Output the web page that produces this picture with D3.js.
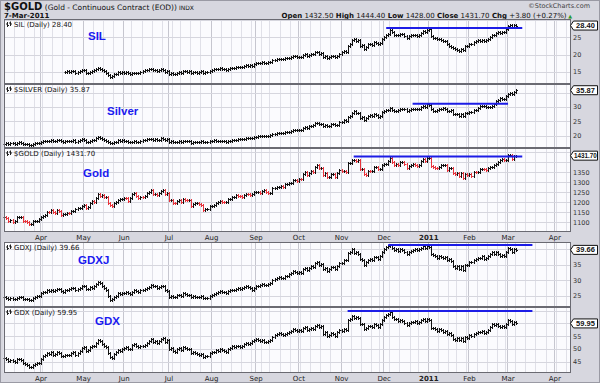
<!DOCTYPE html>
<html>
<head>
<meta charset="utf-8">
<script src="https://cdn.jsdelivr.net/npm/d3@7"></script>
<style>
  body { margin: 0; background: #d7d7df; }
  svg { display: block; }
</style>
</head>
<body>
<div id="chart"></div>
<script>
// trading calendar
const firstDay = "2010-03-08";
const lastAxisDay = "2011-04-15";
const holidays = ["2010-04-02", "2010-05-31", "2010-07-05", "2010-09-06", "2010-11-25", "2010-12-24", "2011-01-17", "2011-02-21"];
const silStart = "2010-04-20";

// daily closes, Mar 8 2010 .. Mar 7 2011
const goldClose = [
  1124,1122,1107,1108,1102,1104,1123,1124,1125,1106,1104,1099,1088,1089,1104,1106,1106,1113,
  1125,1132,1135,1152,1150,1161,1152,1145,1158,1157,1136,1139,1142,1145,1143,1154,1155,1163,1168,1172,1180,
  1183,1168,1176,1197,1207,1200,1221,1240,1232,1233,1223,1225,1193,1186,1178,1193,1200,1211,1213,1213,
  1222,1220,1206,1219,1240,1245,1230,1222,1226,1223,1230,1245,1250,1260,1240,1240,1236,1245,1256,1260,1240,1244,
  1208,1211,1195,1194,1207,1210,1198,1214,1209,1208,1211,1181,1191,1193,1194,1189,1184,1159,1163,1167,1182,
  1182,1186,1197,1198,1205,1201,1198,1198,1214,1216,1225,1226,1233,1231,1229,1227,1235,1240,1238,1237,1238,1248,
  1250,1250,1247,1256,1258,1249,1246,1246,1268,1269,1274,1277,1279,1275,1292,1292,1296,1297,1309,1309,1307,
  1317,1315,1340,1349,1334,1346,1354,1349,1373,1383,1369,1371,1334,1345,1325,1325,1339,1340,1325,1344,1359,
  1354,1357,1349,1393,1394,1410,1412,1403,1408,1367,1367,1338,1336,1355,1353,1356,1375,1377,1364,1366,1386,
  1388,1390,1406,1422,1401,1384,1391,1384,1399,1399,1392,1371,1379,1387,1388,1386,1382,1383,1406,1413,1405,1421,
  1422,1378,1373,1372,1369,1376,1384,1386,1387,1361,1368,1370,1345,1342,1344,1332,1343,1318,1341,1333,
  1339,1332,1352,1349,1349,1364,1364,1363,1360,1368,1374,1374,1385,1388,1401,1409,1415,1410,1411,
  1434,1437,1416,1428,1431.7
];
const silverClose = [
  17.20,17.25,17.10,17.25,17.30,17.15,17.50,17.60,17.50,17.05,17.15,17.10,16.80,16.75,17.10,17.30,17.45,17.50,
  17.75,18.05,18.10,18.20,18.20,18.30,18.00,18.15,18.50,18.60,17.95,17.85,18.05,18.10,18.05,18.25,18.30,17.90,18.10,18.40,18.65,
  18.55,17.60,17.80,18.20,18.40,18.60,19.20,19.60,19.20,18.90,18.45,18.20,17.80,17.35,17.40,17.80,17.90,18.30,18.25,18.45,
  18.10,18.00,17.80,17.60,17.80,17.95,17.75,17.80,18.15,18.30,18.55,18.75,18.95,18.80,18.50,18.65,18.45,18.50,19.00,18.80,18.40,18.70,
  17.90,17.95,17.70,17.60,17.85,18.00,17.80,18.25,18.20,18.05,18.10,17.50,17.75,17.85,17.80,17.90,18.00,17.60,17.80,17.60,17.95,
  18.10,18.30,18.20,18.15,18.20,18.10,18.10,17.90,18.05,18.25,18.30,18.40,18.60,18.80,18.70,18.75,18.90,19.10,19.10,19.25,19.20,19.40,
  19.60,19.80,19.80,19.95,19.85,19.80,19.95,20.10,20.60,20.70,20.75,20.85,20.80,20.90,21.25,21.10,21.35,21.60,22.05,21.95,21.80,
  22.10,22.05,22.70,23.10,22.70,23.30,23.50,23.55,24.25,24.50,24.00,24.10,23.20,23.60,23.25,23.45,23.95,23.95,23.60,23.80,24.70,
  24.90,25.50,25.00,26.40,26.70,27.80,28.60,27.80,27.90,26.30,26.40,25.50,26.20,27.00,27.05,26.95,27.40,27.25,26.65,26.95,28.30,
  28.55,28.80,29.10,29.80,29.00,28.50,28.70,28.80,29.40,29.45,29.20,28.50,29.00,29.30,29.45,29.35,29.15,29.25,29.90,30.40,30.15,30.90,
  30.60,29.40,28.75,28.75,28.80,29.20,29.20,29.60,29.40,28.45,28.60,28.95,27.50,27.50,27.70,27.00,27.60,26.70,27.95,27.90,
  28.40,28.30,28.80,29.10,29.60,30.20,30.40,30.30,30.10,30.15,29.95,30.40,31.10,32.10,32.60,33.00,32.90,32.70,33.90,
  34.60,34.80,34.60,35.20,35.87
];
// SIL starts trading Apr 20 2010
const silClose = [
  15.0,15.1,14.9,15.2,15.3,14.8,15.0,15.3,15.5,
  15.4,14.6,14.7,15.0,15.2,15.4,15.8,16.1,15.8,15.5,15.1,14.8,14.2,13.6,13.8,14.3,14.5,14.9,14.8,15.0,
  14.8,14.9,14.6,14.3,14.6,14.8,14.6,14.7,15.0,15.1,15.4,15.6,15.8,15.7,15.4,15.5,15.3,15.4,15.8,15.6,15.0,15.2,
  14.4,14.6,14.3,14.4,14.8,15.0,14.8,15.3,15.2,15.0,15.1,14.6,14.9,14.9,14.8,15.0,15.2,14.8,15.0,14.9,15.3,
  15.6,15.8,15.9,15.8,16.0,15.9,15.7,15.5,15.7,16.0,16.1,16.2,16.4,16.5,16.4,16.5,16.7,16.9,16.8,16.9,16.8,17.2,
  17.5,17.6,17.6,17.8,17.6,17.5,17.7,17.9,18.4,18.5,18.6,18.8,18.6,18.7,19.0,18.9,19.1,19.3,19.7,19.5,19.3,
  19.4,19.2,19.8,20.1,19.7,20.0,20.3,20.2,20.6,20.8,20.3,20.4,19.3,19.6,19.0,19.2,19.6,19.5,19.2,19.7,20.3,
  20.6,21.0,20.8,22.6,23.2,24.2,24.6,24.0,24.1,22.6,22.7,21.7,22.3,23.0,23.1,22.9,23.5,23.4,23.0,23.4,24.5,
  25.2,25.6,26.0,27.2,26.4,25.6,25.8,25.6,26.0,25.9,25.5,24.9,25.3,25.6,25.7,25.6,25.4,25.6,26.2,26.7,26.5,27.2,
  27.4,25.5,24.9,24.8,24.6,24.4,24.2,24.0,23.8,23.0,22.6,22.2,21.8,21.6,21.2,21.0,21.6,21.2,22.4,22.5,
  23.2,23.1,23.6,23.9,24.2,24.0,24.3,24.0,24.1,24.6,25.2,25.8,25.7,26.2,26.5,26.3,26.6,26.4,27.5,
  28.3,28.6,27.9,28.6,28.40
];
const gdxjClose = [
  24.6,24.4,24.0,24.2,24.0,23.9,24.4,24.6,24.5,24.0,24.1,23.9,23.6,23.7,24.2,24.6,24.9,25.1,
  25.8,26.3,26.4,26.8,26.6,27.0,26.7,26.9,27.3,27.2,26.5,26.4,26.8,27.0,27.1,27.5,27.6,27.0,27.3,27.6,28.0,
  28.2,27.2,27.3,27.8,27.5,28.0,28.8,29.4,29.1,28.2,27.4,26.8,25.0,23.8,23.9,24.8,25.1,25.9,25.6,26.0,
  25.9,26.3,25.8,25.6,26.4,26.8,26.5,26.3,26.9,26.8,27.1,27.5,27.9,28.6,28.0,28.2,27.6,27.9,28.3,28.1,27.0,26.6,
  24.6,24.9,24.5,24.6,25.2,25.4,25.1,25.8,25.6,25.3,25.4,24.6,24.9,24.7,24.5,24.8,24.9,24.2,24.4,24.3,24.9,
  25.4,25.7,26.0,26.1,26.5,26.4,26.2,25.9,26.5,26.8,27.0,26.9,27.3,27.4,27.2,27.5,27.9,28.1,27.8,27.6,26.9,27.5,
  28.0,28.3,28.4,28.7,28.6,28.4,28.9,29.2,30.0,30.3,30.6,30.9,30.6,30.8,31.2,31.5,31.9,32.4,32.8,32.5,32.3,
  32.6,32.3,33.5,34.0,33.3,33.9,34.5,34.3,35.4,35.8,35.0,35.3,33.5,34.0,33.0,33.5,34.3,34.1,33.6,34.6,35.4,
  35.6,36.5,36.3,38.6,38.9,39.8,38.6,39.0,38.4,36.8,36.5,34.9,35.7,36.5,36.6,36.4,37.5,37.4,36.9,37.8,39.0,
  40.0,40.6,40.9,41.2,40.4,39.6,40.0,39.4,40.0,39.6,38.9,38.3,38.9,39.4,39.6,39.8,39.5,39.9,40.4,40.8,40.4,40.9,
  40.6,38.4,37.9,37.6,37.2,37.8,37.5,37.0,37.4,36.3,36.7,36.0,34.5,34.0,34.6,33.6,34.4,33.2,34.8,34.9,
  35.9,35.7,36.4,36.8,37.2,37.0,37.6,36.9,37.1,37.8,38.3,38.9,38.5,38.9,38.2,37.6,38.1,37.8,38.9,
  40.3,40.0,39.0,39.9,39.66
];
const gdxClose = [
  46.3,46.0,45.2,45.6,45.1,44.8,45.9,46.0,45.6,44.3,44.1,43.8,42.9,43.0,43.8,44.2,44.5,44.6,
  46.1,47.3,47.6,48.4,48.0,48.6,47.7,47.9,48.8,48.5,47.2,47.0,47.5,47.7,47.6,48.5,48.7,47.6,48.3,49.1,50.2,
  50.6,49.2,49.6,50.8,51.2,51.0,52.4,53.6,53.0,52.0,51.2,50.6,48.2,46.8,46.5,48.0,48.6,49.6,49.3,49.8,
  50.4,50.8,49.8,50.1,51.3,52.0,51.0,50.6,51.2,51.0,51.6,52.3,53.0,54.0,52.6,53.1,52.4,52.9,53.8,54.3,52.8,53.4,
  49.8,50.2,49.1,48.8,49.9,50.3,49.6,50.7,50.2,49.8,50.0,48.3,48.9,48.5,48.0,47.6,47.8,46.9,47.3,47.0,48.2,
  48.6,48.9,49.4,49.2,49.9,49.6,49.1,48.8,49.8,50.3,50.9,50.6,51.2,51.0,50.8,51.1,51.8,52.3,52.0,52.4,52.9,53.6,
  53.9,53.4,53.1,53.5,52.8,52.6,53.0,53.4,54.8,55.3,55.8,56.2,55.9,55.4,56.0,56.3,56.6,57.1,57.6,57.2,56.9,
  57.3,56.8,58.2,58.6,57.4,57.9,58.3,57.8,58.9,59.5,58.6,58.9,55.8,56.4,54.9,55.3,56.2,56.0,55.1,56.4,57.2,
  57.0,57.8,57.5,61.2,61.8,63.0,62.1,62.6,62.0,59.9,59.8,57.6,58.2,59.1,58.8,58.4,59.6,59.3,58.6,59.8,61.4,
  62.6,63.4,63.8,64.3,62.6,61.5,61.8,60.9,61.4,61.0,60.2,59.4,60.0,60.6,60.5,60.8,60.3,60.7,61.4,61.6,61.0,61.5,
  61.2,58.3,58.0,57.6,57.1,57.8,57.4,56.6,56.9,55.8,56.2,55.6,53.8,53.5,54.2,53.4,54.3,53.0,54.6,54.4,
  55.4,55.0,55.8,56.2,56.6,56.4,57.0,56.2,56.4,57.2,58.4,59.6,59.2,59.8,59.0,58.6,58.9,58.4,59.6,
  61.2,60.8,59.7,60.5,59.95
];

// horizontal resistance lines: [from, to, level]
const silResist = ["2010-12-02", "2011-03-10", 27.7];
const silverResist = ["2010-12-21", "2011-03-01", 31.1];
const goldResist = ["2010-11-09", "2011-03-10", 1428];
const gdxjResist = ["2010-12-03", "2011-03-17", 41.2];
const gdxResist = ["2010-11-04", "2011-03-17", 64.8];

// axis ticks
const silTicks = [15, 20, 25, 30];
const silverTicks = [20, 25, 30, 35];
const goldTicks = [1100, 1150, 1200, 1250, 1300, 1350, 1400, 1450];
const gdxjTicks = [25, 30, 35, 40];
const gdxTicks = [45, 50, 55, 60, 65];

const headerQuote = [["Open", "1432.50"], ["High", "1444.40"], ["Low", "1428.00"], ["Close", "1431.70"], ["Chg", "+3.80 (+0.27%)"]];

// ---------------------------------------------------------------
const W = 600, H = 383;
const left = 4, right = 571;
const fmt = d3.timeFormat("%Y-%m-%d");
const parse = d3.timeParse("%Y-%m-%d");

const days = d3.timeDay.range(parse(firstDay), d3.timeDay.offset(parse(lastAxisDay), 1))
  .filter(d => d.getDay() !== 0 && d.getDay() !== 6 && !holidays.includes(fmt(d)));
const dayIndex = new Map(days.map((d, i) => [fmt(d), i]));

const x = d3.scaleLinear().domain([-0.2, 279]).range([left, right]);

const svg = d3.select("#chart").append("svg").attr("width", W).attr("height", H);
svg.append("rect").attr("width", W).attr("height", H).attr("fill", "#d7d7df");
svg.append("rect").attr("x", 0.5).attr("y", 0.5).attr("width", W - 1).attr("height", H - 1)
  .attr("fill", "none").attr("stroke", "#9a9aa4");

const sans = "'DejaVu Sans', Verdana, sans-serif";
const arial = "'Liberation Sans', Arial, sans-serif";

// header
const h1 = svg.append("text").attr("x", 4).attr("y", 10).style("font-family", sans).attr("fill", "#111");
h1.append("tspan").text("$GOLD").style("font-weight", "bold").style("font-size", "10px");
h1.append("tspan").text(" (Gold - Continuous Contract (EOD))").style("font-size", "7.5px");
h1.append("tspan").text(" INDX").style("font-size", "6px");
svg.append("text").attr("x", 4).attr("y", 17.5).text("7-Mar-2011")
  .style("font-family", sans).style("font-size", "7px").style("font-weight", "bold").attr("fill", "#111");
svg.append("text").attr("x", 590).attr("y", 8).attr("text-anchor", "end").text("\u00a9StockCharts.com")
  .style("font-family", sans).style("font-size", "6.5px").attr("fill", "#444");
const q = svg.append("text").attr("x", 572).attr("y", 17.5).attr("text-anchor", "end")
  .style("font-family", sans).style("font-size", "7px").attr("fill", "#111");
headerQuote.forEach(([k, v], i) => {
  q.append("tspan").text((i ? "  " : "") + k).style("font-weight", "bold");
  q.append("tspan").text(" " + v);
});
q.append("tspan").text(" \u25b2").attr("fill", "#2a9a2a").style("font-size", "5px");

const panels = [
  { title: "SIL (Daily) 28.40", big: "SIL", bigX: 88, bigY: 40, top: 19, bottom: 84, domain: [11.47, 30.3],
    ticks: silTicks, values: silClose, start: silStart, last: "28.40", resist: silResist },
  { title: "$SILVER (Daily) 35.87", big: "Silver", bigX: 107, bigY: 115, top: 84, bottom: 148, domain: [15.66, 38.04],
    ticks: silverTicks, values: silverClose, start: firstDay, last: "35.87", resist: silverResist },
  { title: "$GOLD (Daily) 1431.70", big: "Gold", bigX: 83, bigY: 177, top: 148, bottom: 232, domain: [1050, 1470],
    ticks: goldTicks, values: goldClose, start: firstDay, last: "1431.70", resist: goldResist, redDown: true },
  { title: "GDXJ (Daily) 39.66", big: "GDXJ", bigX: 78, bigY: 264, top: 242, bottom: 307, domain: [21.47, 42.17],
    ticks: gdxjTicks, values: gdxjClose, start: firstDay, last: "39.66", resist: gdxjResist },
  { title: "GDX (Daily) 59.95", big: "GDX", bigX: 95, bigY: 325, top: 307, bottom: 373, domain: [40.5, 66.4],
    ticks: gdxTicks, values: gdxClose, start: firstDay, last: "59.95", resist: gdxResist }
];

// week and month starts
const weekStarts = days.filter((d, i) => i === 0 || d3.timeWeek.floor(d) > d3.timeWeek.floor(days[i - 1]));
const monthStarts = days.filter((d, i) => i > 0 && d.getMonth() !== days[i - 1].getMonth());
const gx = d => Math.round(x(dayIndex.get(fmt(d))) - 1) + 0.5;

panels.forEach(p => {
  const y = d3.scaleLinear().domain(p.domain).range([p.bottom, p.top]);
  const g = svg.append("g");
  g.append("rect").attr("x", left).attr("y", p.top).attr("width", right - left).attr("height", p.bottom - p.top)
    .attr("fill", "#fbfbfe");

  // grid
  g.selectAll(".wk").data(weekStarts).join("line")
    .attr("x1", gx).attr("x2", gx).attr("y1", p.top).attr("y2", p.bottom)
    .attr("stroke", "#e0e0e8").attr("stroke-width", 1);
  g.selectAll(".mo").data(monthStarts).join("line")
    .attr("x1", gx).attr("x2", gx).attr("y1", p.top).attr("y2", p.bottom)
    .attr("stroke", "#c6c6cf").attr("stroke-width", 1);
  g.selectAll(".hz").data(p.ticks.filter(t => y(t) > p.top + 1 && y(t) < p.bottom - 1)).join("line")
    .attr("x1", left).attr("x2", right)
    .attr("y1", t => Math.round(y(t)) + 0.5).attr("y2", t => Math.round(y(t)) + 0.5)
    .attr("stroke", "#d6d6de");

  // OHLC bars (open at previous close)
  const i0 = dayIndex.get(p.start);
  const bars = p.values.map((c, k) => {
    const o = k ? p.values[k - 1] : c;
    return { i: i0 + k, o, c, down: c < o };
  });
  const barPath = b => {
    const bx = Math.round(x(b.i)) + 0.5;
    const yo = Math.round(y(b.o)) + 0.5, yc = Math.round(y(b.c)) + 0.5;
    const yt = Math.min(yo, yc) - 1.5, yb = Math.max(yo, yc) + 1.5;
    return `M${bx},${yt}V${yb}M${bx - 1},${yo}H${bx}M${bx},${yc}H${bx + 1.5}`;
  };
  const plot = g.append("g");
  plot.append("path").attr("d", bars.filter(b => !(p.redDown && b.down)).map(barPath).join(""))
    .attr("fill", "none").attr("stroke", "#111").attr("stroke-width", 1);
  if (p.redDown) {
    plot.append("path").attr("d", bars.filter(b => b.down).map(barPath).join(""))
      .attr("fill", "none").attr("stroke", "#e8323a").attr("stroke-width", 1);
  }

  // resistance line
  const [rf, rt, lv] = p.resist;
  g.append("line").attr("x1", x(dayIndex.get(rf))).attr("x2", x(dayIndex.get(rt)))
    .attr("y1", y(lv)).attr("y2", y(lv)).attr("stroke", "#1c1ce6").attr("stroke-width", 2);

  // border
  g.append("rect").attr("x", left + 0.5).attr("y", p.top + 0.5).attr("width", right - left - 1)
    .attr("height", p.bottom - p.top - 1).attr("fill", "none").attr("stroke", "#6a6a72");

  // panel title with bar icon
  g.append("path").attr("d", `M7.5,${p.top + 3}V${p.top + 8}M6,${p.top + 5}H7.5M7.5,${p.top + 6.5}H9M10.5,${p.top + 2.5}V${p.top + 7}M9,${p.top + 4}H10.5M10.5,${p.top + 5}H12`)
    .attr("stroke", "#222").attr("fill", "none").attr("stroke-width", 1);
  g.append("text").attr("x", 14).attr("y", p.top + 7.5).text(p.title)
    .style("font-family", sans).style("font-size", "7px").attr("fill", "#111");
  g.append("text").attr("x", p.bigX).attr("y", p.bigY).text(p.big)
    .style("font-family", arial).style("font-size", "11.5px").style("font-weight", "bold").attr("fill", "#1a1af0");

  // right axis: skip labels hidden by the price box or crowded at the panel top
  const ly = y(p.values[p.values.length - 1]);
  const ax = svg.append("g");
  p.ticks.forEach(t => {
    const ty = y(t);
    if (ty < p.top + 6 || ty > p.bottom - 2 || Math.abs(ty - ly) < 7) return;
    ax.append("text").attr("x", 573).attr("y", ty + 2.5).text(t)
      .style("font-family", sans).style("font-size", "6.5px").attr("fill", "#333");
  });
  const bx0 = right + 2.5, bx1 = 597.5;
  ax.append("path")
    .attr("d", `M${right - 0.5},${ly}L${bx0},${ly - 4.5}H${bx1}V${ly + 4.5}H${bx0}Z`)
    .attr("fill", "#fff").attr("stroke", "#111").attr("stroke-width", 1);
  ax.append("text").attr("x", (bx0 + bx1) / 2).attr("y", ly + 2.5).attr("text-anchor", "middle").text(p.last)
    .style("font-family", arial).style("font-size", p.last.length > 5 ? "6.3px" : "7.5px")
    .style("font-weight", "bold").attr("fill", "#111");
});

// date axes
const monthLabel = d => d.getMonth() === 0 ? String(d.getFullYear()) : d3.timeFormat("%b")(d);
[240, 381].forEach(ty => {
  svg.append("g").selectAll("text").data(monthStarts.filter(d => x(dayIndex.get(fmt(d))) > left + 10)).join("text")
    .attr("x", d => x(dayIndex.get(fmt(d))))
    .attr("y", ty)
    .attr("text-anchor", "middle")
    .text(monthLabel)
    .style("font-family", sans).style("font-size", "7px")
    .style("font-weight", d => d.getMonth() === 0 ? "bold" : "normal")
    .attr("fill", "#222");
});
</script>
</body>
</html>
